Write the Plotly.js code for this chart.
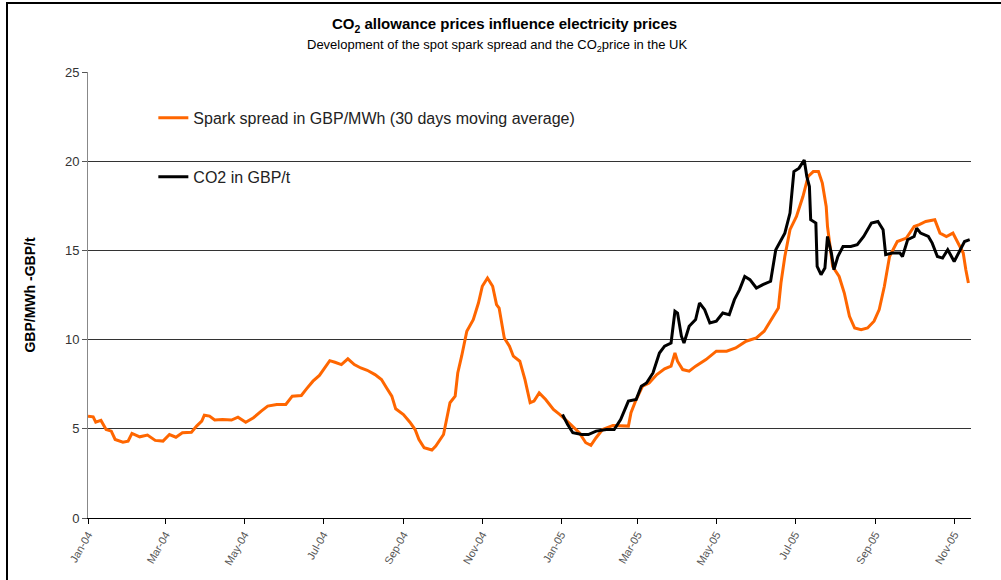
<!DOCTYPE html>
<html>
<head>
<meta charset="utf-8">
<script src="https://cdn.plot.ly/plotly-3.0.1.min.js"></script>
<style>
  body { margin: 0; background: #fff; }
  #chart { position: absolute; left: 6px; top: 2px; border-left: 2px solid #000; border-top: 2px solid #000; }
</style>
</head>
<body>
<div id="chart"></div>
<script>
// Spark spread, 30 days moving average (GBP/MWh)
const sparkDates = [
  '2004-01-01','2004-01-05','2004-01-07','2004-01-11','2004-01-15','2004-01-19','2004-01-22','2004-01-28',
  '2004-02-01','2004-02-04','2004-02-10','2004-02-16','2004-02-22','2004-02-28','2004-03-04','2004-03-09',
  '2004-03-14','2004-03-21','2004-03-25','2004-03-29','2004-03-31','2004-04-04','2004-04-08','2004-04-14',
  '2004-04-21','2004-04-26','2004-05-02','2004-05-08','2004-05-14','2004-05-19','2004-05-26','2004-06-02',
  '2004-06-07','2004-06-14','2004-06-18','2004-06-23','2004-06-28','2004-07-02','2004-07-06','2004-07-10',
  '2004-07-15','2004-07-20','2004-07-25','2004-07-30','2004-08-04','2004-08-10','2004-08-15','2004-08-19',
  '2004-08-23','2004-08-26','2004-09-01','2004-09-06','2004-09-10','2004-09-13','2004-09-17','2004-09-23',
  '2004-09-26','2004-10-02','2004-10-04','2004-10-07','2004-10-11','2004-10-13','2004-10-16','2004-10-20',
  '2004-10-25','2004-10-29','2004-11-01','2004-11-05','2004-11-09','2004-11-12','2004-11-14','2004-11-18',
  '2004-11-22','2004-11-25','2004-11-30','2004-12-04','2004-12-08','2004-12-11','2004-12-15','2004-12-20',
  '2004-12-26','2004-12-31','2005-01-07','2005-01-15','2005-01-20','2005-01-24','2005-01-28','2005-02-02',
  '2005-02-10','2005-02-18','2005-02-22','2005-02-24','2005-02-28','2005-03-05','2005-03-10','2005-03-16',
  '2005-03-22','2005-03-27','2005-03-30','2005-04-01','2005-04-05','2005-04-10','2005-04-15','2005-04-23',
  '2005-05-01','2005-05-09','2005-05-16','2005-05-24','2005-06-01','2005-06-07','2005-06-12','2005-06-18',
  '2005-06-20','2005-06-23','2005-06-27','2005-07-02','2005-07-07','2005-07-11','2005-07-15','2005-07-19',
  '2005-07-22','2005-07-25','2005-07-26','2005-07-30','2005-08-04','2005-08-08','2005-08-12','2005-08-16',
  '2005-08-21','2005-08-26','2005-08-31','2005-09-04','2005-09-08','2005-09-12','2005-09-18','2005-09-25',
  '2005-10-01','2005-10-05','2005-10-10','2005-10-17','2005-10-21','2005-10-26','2005-10-31','2005-11-04',
  '2005-11-08','2005-11-10','2005-11-12'
];
const sparkValues = [
  5.71,5.67,5.37,5.47,4.96,4.87,4.40,4.25,
  4.31,4.74,4.55,4.65,4.35,4.31,4.68,4.53,
  4.78,4.81,5.15,5.43,5.76,5.71,5.49,5.52,
  5.49,5.65,5.37,5.62,5.99,6.27,6.36,6.36,
  6.83,6.87,7.24,7.67,7.99,8.41,8.82,8.73,
  8.60,8.92,8.60,8.41,8.28,8.04,7.76,7.29,
  6.83,6.12,5.80,5.37,4.96,4.40,3.94,3.81,
  4.03,4.68,5.34,6.46,6.83,8.13,9.07,10.47,
  11.12,12.05,12.99,13.45,12.99,11.96,11.77,10.09,
  9.63,9.07,8.79,7.76,6.46,6.55,7.01,6.64,
  6.08,5.80,5.34,4.78,4.22,4.07,4.50,4.96,
  5.19,5.15,5.15,5.90,6.64,7.39,7.57,8.04,
  8.36,8.51,9.25,8.79,8.32,8.23,8.51,8.88,
  9.35,9.35,9.53,9.91,10.09,10.47,11.03,11.77,
  13.17,14.66,16.16,16.90,18.02,19.14,19.42,19.42,
  18.77,17.46,16.34,14.10,13.54,12.61,11.31,10.65,
  10.56,10.65,11.03,11.68,12.99,14.66,15.50,15.69,
  16.34,16.44,16.62,16.72,15.97,15.78,15.97,15.41,
  14.85,13.92,13.17
];

// CO2 allowance price (GBP/t)
const co2Dates = [
  '2005-01-02','2005-01-06','2005-01-10','2005-01-17','2005-01-22','2005-01-28','2005-02-05','2005-02-11',
  '2005-02-16','2005-02-22','2005-02-28','2005-03-04','2005-03-08','2005-03-13','2005-03-18','2005-03-22',
  '2005-03-27','2005-03-30','2005-04-01','2005-04-04','2005-04-06','2005-04-10','2005-04-15','2005-04-18',
  '2005-04-22','2005-04-26','2005-05-01','2005-05-06','2005-05-11','2005-05-15','2005-05-19','2005-05-23',
  '2005-05-27','2005-06-01','2005-06-06','2005-06-12','2005-06-16','2005-06-20','2005-06-23','2005-06-27',
  '2005-06-30','2005-07-04','2005-07-08','2005-07-10','2005-07-12','2005-07-13','2005-07-17','2005-07-18',
  '2005-07-21','2005-07-24','2005-07-26','2005-07-29','2005-07-31','2005-08-03','2005-08-07','2005-08-13',
  '2005-08-18','2005-08-23','2005-08-29','2005-09-03','2005-09-07','2005-09-09','2005-09-14','2005-09-20',
  '2005-09-22','2005-09-26','2005-10-01','2005-10-03','2005-10-06','2005-10-12','2005-10-15','2005-10-19',
  '2005-10-23','2005-10-27','2005-11-01','2005-11-05','2005-11-09','2005-11-13'
];
const co2Values = [
  5.80,5.24,4.78,4.68,4.68,4.87,4.96,4.96,
  5.52,6.55,6.64,7.39,7.57,8.13,9.25,9.63,
  9.81,11.59,11.49,10.19,9.81,10.75,11.12,12.05,
  11.68,10.93,11.03,11.49,11.40,12.24,12.80,13.54,
  13.36,12.89,13.08,13.27,15.04,15.60,15.97,17.09,
  19.42,19.61,20.07,19.14,18.58,16.72,16.53,14.10,
  13.64,14.01,15.78,14.85,13.92,14.66,15.22,15.22,
  15.32,15.78,16.53,16.62,16.16,14.76,14.85,14.85,
  14.66,15.60,15.78,16.25,15.97,15.78,15.41,14.66,
  14.57,15.04,14.38,14.94,15.50,15.60
];

const yTicks = [0, 5, 10, 15, 20, 25];
const fontFamily = '"Liberation Sans", Arial, sans-serif';

let sparkTrace = {
  x: sparkDates,
  y: sparkValues,
  type: 'scatter',
  mode: 'lines',
  name: 'Spark spread in GBP/MWh (30 days moving average)',
  line: { color: '#ff6600', width: 3 },
  legend: 'legend'
};

let co2Trace = {
  x: co2Dates,
  y: co2Values,
  type: 'scatter',
  mode: 'lines',
  name: 'CO2 in GBP/t',
  line: { color: '#000000', width: 3 },
  legend: 'legend2'
};

let layout = {
  width: 993,
  height: 576,
  margin: { l: 80, r: 30, t: 68, b: 62 },
  paper_bgcolor: '#fff',
  plot_bgcolor: '#fff',
  font: { family: fontFamily, color: '#222' },
  title: {
    text: '<b>CO<sub>2</sub> allowance prices influence electricity prices</b>',
    font: { size: 15, color: '#000' },
    xref: 'container', x: 0.5,
    yref: 'container', y: 0.965, yanchor: 'middle'
  },
  annotations: [
    {
      text: 'Development of the spot spark spread and the CO<sub>2</sub>price in the UK',
      xref: 'paper', yref: 'paper', x: 0.463, y: 1.0605,
      xanchor: 'center', yanchor: 'middle', showarrow: false,
      font: { size: 13, color: '#000' }
    }
  ],
  xaxis: {
    type: 'date',
    range: ['2004-01-01', '2005-11-14'],
    tick0: '2004-01-01',
    dtick: 'M2',
    tickformat: '%b-%y',
    tickangle: -60,
    ticks: 'outside',
    ticklen: 5,
    tickcolor: '#000',
    showline: true,
    linecolor: '#000',
    linewidth: 1,
    showgrid: false,
    zeroline: false,
    tickfont: { size: 11, color: '#555' }
  },
  yaxis: {
    range: [0, 25],
    tickvals: yTicks,
    ticks: 'outside',
    ticklen: 5,
    tickcolor: '#555',
    showline: true,
    linecolor: '#888',
    linewidth: 1,
    showgrid: true,
    gridcolor: '#333',
    gridwidth: 1,
    zeroline: false,
    tickfont: { size: 13, color: '#333' },
    title: { text: '<b>GBP/MWh -GBP/t</b>', font: { size: 14, color: '#000' }, standoff: 26 }
  },
  showlegend: true,
  legend: {
    x: 0.074, xanchor: 'left', y: 0.897, yanchor: 'middle',
    bgcolor: 'rgba(0,0,0,0)', font: { size: 16, color: '#222' }
  },
  legend2: {
    x: 0.074, xanchor: 'left', y: 0.765, yanchor: 'middle',
    bgcolor: 'rgba(0,0,0,0)', font: { size: 16, color: '#222' }
  },
  shapes: [
    { type: 'rect', xref: 'paper', yref: 'y', x0: 0.002, x1: 0.547, y0: 19.5, y1: 20.5,
      fillcolor: '#fff', line: { width: 0 }, layer: 'between' }
  ]
};

Plotly.newPlot('chart', [sparkTrace, co2Trace], layout, { displayModeBar: false, staticPlot: true });
</script>
</body>
</html>
